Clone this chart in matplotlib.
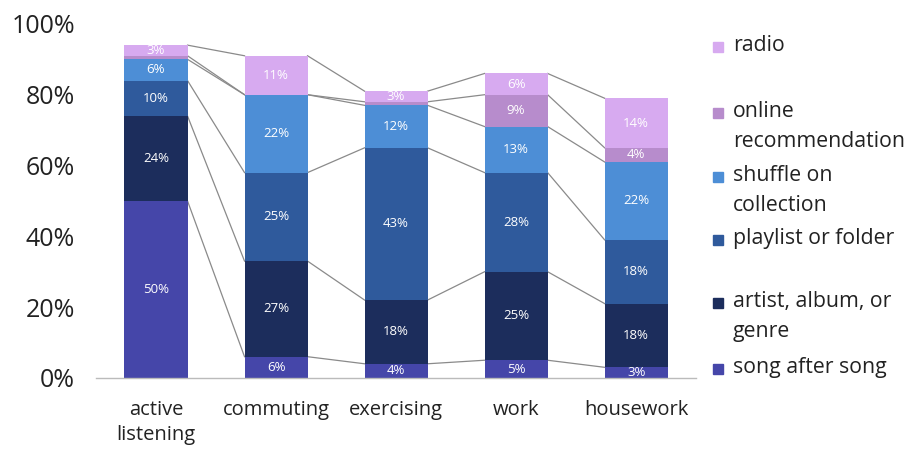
import matplotlib
matplotlib.use("Agg")
import matplotlib.pyplot as plt
from matplotlib.patches import Rectangle
import numpy as np

plt.rcParams['font.family'] = ['Open Sans', 'DejaVu Sans']

activities = ["active\nlistening", "commuting", "exercising", "work", "housework"]
series_names = ["song after song", "artist, album, or\ngenre", "playlist or folder",
                "shuffle on\ncollection", "online\nrecommendation", "radio"]
song_after_song = [50, 6, 4, 5, 3]
artist_album_genre = [24, 27, 18, 25, 18]
playlist_folder = [10, 25, 43, 28, 18]
shuffle_collection = [6, 22, 12, 13, 22]
online_recommendation = [1, 0, 1, 9, 4]
radio = [3, 11, 3, 6, 14]
show_label = [
    [True] * 5,
    [True] * 5,
    [True] * 5,
    [True] * 5,
    [False, False, False, True, True],
    [True] * 5,
]
colors = ["#4546a9", "#1c2d5c", "#2f5a9c", "#4d8ed6", "#b78ccc", "#d7aaf0"]
yticks = [0, 20, 40, 60, 80, 100]

data = np.array([song_after_song, artist_album_genre, playlist_folder,
                 shuffle_collection, online_recommendation, radio], dtype=float)

fig = plt.figure(figsize=(9.08, 4.51), dpi=100)
ax = fig.add_axes([0.1057, 0.162, 0.661, 0.785])

x = np.arange(len(activities))
width = 0.525
bottoms = np.zeros(len(activities))
for k, vals in enumerate(data):
    ax.bar(x, vals, width, bottom=bottoms, color=colors[k], zorder=2)
    for i, v in enumerate(vals):
        if show_label[k][i] and v > 0:
            ax.text(x[i], bottoms[i] + v / 2, f"{int(v)}%", ha="center", va="center",
                    color="white", fontsize=9.5, zorder=3)
    bottoms = bottoms + vals
    # connector lines between neighbouring bars at each cumulative level
    for i in range(len(activities) - 1):
        ax.plot([x[i] + width / 2, x[i + 1] - width / 2], [bottoms[i], bottoms[i + 1]],
                color="#8a8a8a", lw=0.9, zorder=1)

ax.set_xlim(-0.5, len(activities) - 0.5)
ax.set_ylim(0, 100)
ax.set_yticks(yticks)
ax.set_yticklabels([f"{t}%" for t in yticks], fontsize=18, color="#222222")
ax.set_xticks(x)
ax.set_xticklabels(activities, fontsize=14.5, color="#222222", linespacing=1.3)
ax.tick_params(length=0)
ax.tick_params(axis="y", pad=15)
ax.tick_params(axis="x", pad=16)
for s in ["top", "right", "left"]:
    ax.spines[s].set_visible(False)
ax.spines["bottom"].set_color("#bbbbbb")
ax.spines["bottom"].set_linewidth(1.0)

# legend drawn as colour squares with text, top entry first
H = 451.0
W = 908.0
legend_rows = [47, 113, 177, 240, 303, 369]
for k, name in enumerate(reversed(series_names)):
    col = list(reversed(colors))[k]
    fy = 1 - legend_rows[k] / H
    fig.patches.append(Rectangle((713 / W, fy - 5 / H), 10 / W, 10 / H,
                                 transform=fig.transFigure, color=col))
    fig.text(733 / W, fy + 12 / H, name, fontsize=15.3, color="#222222", va="top",
             ha="left", linespacing=1.55, transform=fig.transFigure)

fig.savefig("out.png", dpi=100)
